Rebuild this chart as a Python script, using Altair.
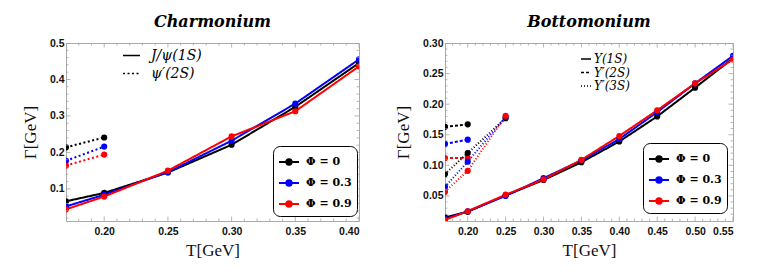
import altair as alt
import pandas as pd

PHI = ["Φ = 0", "Φ = 0.3", "Φ = 0.9"]
COLORS = ["#000000", "#0000ff", "#ff0000"]

# Charmonium
char_T = [0.17, 0.20, 0.25, 0.30, 0.35, 0.40]
char_1S_phi0 = [0.066, 0.089, 0.145, 0.221, 0.325, 0.445]
char_1S_phi03 = [0.052, 0.084, 0.146, 0.232, 0.334, 0.455]
char_1S_phi09 = [0.044, 0.079, 0.150, 0.244, 0.313, 0.436]
char_2S_T = [0.17, 0.20]
char_2S_phi0 = [0.214, 0.241]
char_2S_phi03 = [0.177, 0.216]
char_2S_phi09 = [0.164, 0.194]
char_states = ["J/ψ(1S)", "ψ′(2S)"]

# Bottomonium
bott_T = [0.17, 0.20, 0.25, 0.30, 0.35, 0.40, 0.45, 0.50, 0.55]
bott_1S_phi0 = [0.015, 0.024, 0.051, 0.076, 0.105, 0.139, 0.180, 0.227, 0.275]
bott_1S_phi03 = [0.012, 0.025, 0.050, 0.079, 0.108, 0.143, 0.187, 0.234, 0.279]
bott_1S_phi09 = [0.011, 0.025, 0.052, 0.077, 0.109, 0.148, 0.190, 0.234, 0.273]
bott_2S_T = [0.17, 0.20]
bott_2S_phi0 = [0.163, 0.167]
bott_2S_phi03 = [0.135, 0.142]
bott_2S_phi09 = [0.112, 0.112]
bott_3S_T = [0.17, 0.20, 0.25]
bott_3S_phi0 = [0.086, 0.120, 0.177]
bott_3S_phi03 = [0.065, 0.106, 0.179]
bott_3S_phi09 = [0.057, 0.091, 0.181]
bott_states = ["Υ(1S)", "Υ′(2S)", "Υ′(3S)"]

# Axis ticks
char_x_major = [0.20, 0.25, 0.30, 0.35, 0.40]
char_x_minor = [0.17, 0.18, 0.19, 0.21, 0.22, 0.23, 0.24, 0.26, 0.27, 0.28, 0.29,
                0.31, 0.32, 0.33, 0.34, 0.36, 0.37, 0.38, 0.39]
char_y_major = [0.1, 0.2, 0.3, 0.4, 0.5]
char_y_minor = [0.02, 0.04, 0.06, 0.08, 0.12, 0.14, 0.16, 0.18, 0.22, 0.24, 0.26, 0.28,
                0.32, 0.34, 0.36, 0.38, 0.42, 0.44, 0.46, 0.48]
bott_x_major = [0.20, 0.25, 0.30, 0.35, 0.40, 0.45, 0.50, 0.55]
bott_x_minor = [0.17, 0.18, 0.19, 0.21, 0.22, 0.23, 0.24, 0.26, 0.27, 0.28, 0.29,
                0.31, 0.32, 0.33, 0.34, 0.36, 0.37, 0.38, 0.39, 0.41, 0.42, 0.43, 0.44,
                0.46, 0.47, 0.48, 0.49, 0.51, 0.52, 0.53, 0.54]
bott_y_major = [0.05, 0.10, 0.15, 0.20, 0.25, 0.30]
bott_y_minor = [0.02, 0.03, 0.04, 0.06, 0.07, 0.08, 0.09, 0.11, 0.12, 0.13, 0.14,
                0.16, 0.17, 0.18, 0.19, 0.21, 0.22, 0.23, 0.24, 0.26, 0.27, 0.28, 0.29]


def build(series):
    rows = []
    for state, phi, ts, gs in series:
        for t, g in zip(ts, gs):
            rows.append({"T": t, "G": g, "phi": phi, "state": state})
    return pd.DataFrame(rows)


char_df = build([
    (char_states[0], PHI[0], char_T, char_1S_phi0),
    (char_states[0], PHI[1], char_T, char_1S_phi03),
    (char_states[0], PHI[2], char_T, char_1S_phi09),
    (char_states[1], PHI[0], char_2S_T, char_2S_phi0),
    (char_states[1], PHI[1], char_2S_T, char_2S_phi03),
    (char_states[1], PHI[2], char_2S_T, char_2S_phi09),
])
bott_df = build([
    (bott_states[0], PHI[0], bott_T, bott_1S_phi0),
    (bott_states[0], PHI[1], bott_T, bott_1S_phi03),
    (bott_states[0], PHI[2], bott_T, bott_1S_phi09),
    (bott_states[1], PHI[0], bott_2S_T, bott_2S_phi0),
    (bott_states[1], PHI[1], bott_2S_T, bott_2S_phi03),
    (bott_states[1], PHI[2], bott_2S_T, bott_2S_phi09),
    (bott_states[2], PHI[0], bott_3S_T, bott_3S_phi0),
    (bott_states[2], PHI[1], bott_3S_T, bott_3S_phi03),
    (bott_states[2], PHI[2], bott_3S_T, bott_3S_phi09),
])

LINE_DOT = ("M-1,0L1,0"
            "M0.27,0A0.27,0.27,0,1,1,-0.27,0A0.27,0.27,0,1,1,0.27,0"
            "M0.1,0A0.1,0.1,0,1,1,-0.1,0A0.1,0.1,0,1,1,0.1,0")

TICK_COLOR = "#999999"


def panel(df, states, dashes, title, xdom, ydom, xmaj, xmin, ymaj, ymin, yfmt,
          W, H, dash_xy, dash_sym, dash_font, dash_rowpad, dash_off, color_xy):
    xs = alt.Scale(domain=xdom, nice=False, zero=False)
    ys = alt.Scale(domain=ydom, nice=False, zero=False)
    xaxis = alt.Axis(values=xmaj, format=".2f", title="T[GeV]", labelOverlap=False)
    yaxis = alt.Axis(values=ymaj, format=yfmt, title="Γ[GeV]", labelOverlap=False)
    x = alt.X("T:Q", scale=xs, axis=xaxis)
    y = alt.Y("G:Q", scale=ys, axis=yaxis)
    color_leg = alt.Legend(
        orient="none", legendX=color_xy[0], legendY=color_xy[1], title=None,
        strokeColor="#000000", fillColor="#ffffff", cornerRadius=7, padding=5,
        symbolType=LINE_DOT, symbolSize=400, symbolStrokeWidth=2,
        labelFont="DejaVu Serif", labelFontWeight="bold", labelFontSize=11,
        labelColor="#000000", labelOffset=6, rowPadding=3,
    )
    dash_leg = alt.Legend(
        orient="none", legendX=dash_xy[0], legendY=dash_xy[1], title=None,
        symbolType="stroke", symbolSize=dash_sym, symbolStrokeWidth=1.3,
        symbolStrokeColor="#000000",
        labelFont="DejaVu Serif", labelFontStyle="italic", labelFontSize=dash_font,
        labelColor="#000000", labelOffset=dash_off, rowPadding=dash_rowpad, padding=0,
    )
    lines = alt.Chart(df).mark_line(strokeWidth=2, clip=True).encode(
        x=x, y=y,
        color=alt.Color("phi:N", scale=alt.Scale(domain=PHI, range=COLORS), legend=color_leg),
        strokeDash=alt.StrokeDash("state:N", scale=alt.Scale(domain=states, range=dashes),
                                  legend=dash_leg),
    )
    points = alt.Chart(df).mark_point(filled=True, size=38, opacity=1, clip=True).encode(
        x=x, y=y,
        color=alt.Color("phi:N", scale=alt.Scale(domain=PHI, range=COLORS), legend=None),
    )
    layers = [lines, points]
    for vals, ln in ((xmaj, 9), (xmin, 5)):
        tdf = pd.DataFrame({"T": vals})
        for ypos in (0, H):
            layers.append(alt.Chart(tdf).mark_tick(color=TICK_COLOR, size=ln, thickness=1,
                                                   clip=True).encode(
                x=alt.X("T:Q", scale=xs, axis=xaxis), y=alt.value(ypos)))
    for vals, ln in ((ymaj, 9), (ymin, 5)):
        tdf = pd.DataFrame({"G": vals})
        for xpos in (0, W):
            layers.append(alt.Chart(tdf).mark_tick(color=TICK_COLOR, size=ln, thickness=1,
                                                   clip=True).encode(
                y=alt.Y("G:Q", scale=ys, axis=yaxis), x=alt.value(xpos)))
    return alt.layer(*layers).properties(
        width=W, height=H,
        title=alt.TitleParams(title, font="DejaVu Serif", fontStyle="italic",
                              fontWeight="bold", fontSize=16, anchor="middle",
                              color="#000000", offset=8),
    )


left = panel(char_df, char_states, [[1, 0], [2, 2.5]], "Charmonium",
             [0.17, 0.40], [0.012, 0.5], char_x_major, char_x_minor,
             char_y_major, char_y_minor, ".1f",
             293, 178, (56, 3), 289, 14, 1, 10, (207, 103))
right = panel(bott_df, bott_states, [[1, 0], [3, 2], [1, 2]], "Bottomonium",
              [0.17, 0.55], [0.009, 0.30], bott_x_major, bott_x_minor,
              bott_y_major, bott_y_minor, ".2f",
              288, 178, (135, 10), 100, 12, 1.5, 2, (198, 100))

chart = alt.hconcat(left, right, spacing=86, bounds="flush").resolve_scale(
    color="independent", strokeDash="independent", x="independent", y="independent"
).properties(
    padding={"left": 12, "top": 5, "right": 5, "bottom": 5}
).configure_view(
    stroke="#aaaaaa", strokeWidth=1
).configure_axis(
    grid=False, domain=False, ticks=False,
    labelFont="Liberation Sans", labelFontWeight="bold", labelFontSize=10.5,
    labelColor="#111111", labelPadding=4,
    titleFont="Liberation Serif", titleFontSize=17, titleFontWeight="normal",
    titleColor="#111111",
).configure_axisY(
    titlePadding=10, labelPadding=2,
).configure_axisX(
    titlePadding=6, labelPadding=5,
)

chart.save("out.html", embed_options={"renderer": "svg", "actions": False})
